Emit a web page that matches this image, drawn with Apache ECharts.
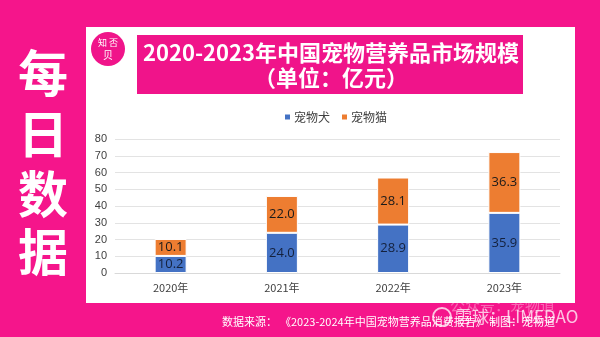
<!DOCTYPE html>
<html>
<head>
<meta charset="utf-8">
<script src="https://cdn.jsdelivr.net/npm/echarts@6/dist/echarts.min.js"></script>
<style>
html,body{margin:0;padding:0;background:#F5158B;}
#c{width:600px;height:337px;}
</style>
</head>
<body>
<div id="c"></div>
<script>
const categories = ['2020年', '2021年', '2022年', '2023年'];
const dogValues = [10.2, 24.0, 28.9, 35.9];
const catValues = [10.1, 22.0, 28.1, 36.3];
const seriesNames = ['宠物犬', '宠物猫'];
const titleLines = ['2020-2023年中国宠物营养品市场规模', '（单位：亿元）'];
const sideChars = ['每', '日', '数', '据'];
const sourceLabel = '数据来源：';
const sourceText = '《2023-2024年中国宠物营养品消费报告》 制图：宠物道';

const PINK = '#F5158B';
const CJK = '"Noto Sans CJK SC", "Noto Sans", sans-serif';

const chart = echarts.init(document.getElementById('c'));

const graphics = [
  { type: 'rect', shape: { x: 86, y: 27, width: 489, height: 276 }, style: { fill: '#ffffff' }, z: -10 },
  { type: 'rect', shape: { x: 137, y: 35, width: 386, height: 59 }, style: { fill: '#F0148A' }, z: 1 },
  { type: 'text', x: 331, y: 53, style: { text: titleLines[0], fill: '#ffffff', font: 'bold 22px ' + CJK, textAlign: 'center', textVerticalAlign: 'middle' }, z: 2 },
  { type: 'text', x: 331, y: 78, style: { text: titleLines[1], fill: '#ffffff', font: 'bold 22px ' + CJK, textAlign: 'center', textVerticalAlign: 'middle' }, z: 2 },
  { type: 'circle', shape: { cx: 108, cy: 49, r: 17 }, style: { fill: '#F0148A' }, z: 1 },
  { type: 'text', x: 108, y: 43, style: { text: '知 否', fill: '#ffffff', font: '9px ' + CJK, textAlign: 'center', textVerticalAlign: 'middle' }, z: 2 },
  { type: 'text', x: 108, y: 55, style: { text: '贝', fill: '#ffffff', font: '10px ' + CJK, textAlign: 'center', textVerticalAlign: 'middle' }, z: 2 },
  { type: 'text', x: 222, y: 322, style: { text: sourceLabel, fill: '#ffffff', font: '11px ' + CJK, textAlign: 'left', textVerticalAlign: 'middle' }, z: 2 },
  { type: 'text', x: 280, y: 322, style: { text: sourceText, fill: '#ffffff', font: '11px ' + CJK, textAlign: 'left', textVerticalAlign: 'middle' }, z: 2 },
  { type: 'text', x: 450, y: 305, style: { text: '公众号：宠物道', fill: 'rgba(255,255,255,0.35)', font: '15px ' + CJK, textAlign: 'left', textVerticalAlign: 'middle' }, z: 3 },
  { type: 'circle', shape: { cx: 442, cy: 317, r: 9 }, style: { fill: 'none', stroke: 'rgba(255,255,255,0.75)', lineWidth: 2 }, z: 3 },
  { type: 'text', x: 455, y: 317, style: { text: '雪球：LIMEDAO', fill: 'rgba(255,255,255,0.75)', font: '17px ' + CJK, textAlign: 'left', textVerticalAlign: 'middle' }, z: 3 }
];
const sideY = [73, 134, 194, 252];
sideChars.forEach((ch, i) => {
  graphics.push({ type: 'text', x: 43, y: sideY[i], style: { text: ch, fill: '#ffffff', font: 'bold 50px ' + CJK, textAlign: 'center', textVerticalAlign: 'middle' }, z: 2 });
});

chart.setOption({
  backgroundColor: PINK,
  animation: false,
  graphic: graphics,
  legend: {
    data: seriesNames,
    top: 106,
    left: 278,
    itemWidth: 7,
    itemHeight: 7,
    itemGap: 10,
    icon: 'rect',
    textStyle: { fontFamily: CJK, fontSize: 12, color: '#404040', padding: [0, 0, 0, -2] }
  },
  grid: { left: 115, right: 40, top: 139, bottom: 64 },
  xAxis: {
    type: 'category',
    data: categories,
    axisLine: { lineStyle: { color: '#d9d9d9' } },
    axisTick: { show: false },
    axisLabel: { color: '#404040', fontSize: 11, fontFamily: CJK, margin: 9 }
  },
  yAxis: {
    type: 'value',
    min: 0, max: 80, interval: 10,
    axisLine: { show: false },
    axisTick: { show: false },
    axisLabel: { color: '#404040', fontSize: 11, fontFamily: 'Liberation Sans, sans-serif', margin: 8 },
    splitLine: { lineStyle: { color: '#e3e3e3' } }
  },
  series: [
    {
      name: seriesNames[0], type: 'bar', stack: 'a', data: dogValues, barWidth: 32,
      itemStyle: { color: '#4472C4', borderColor: '#ffffff', borderWidth: 1 },
      label: { show: true, position: 'inside', color: '#14213d', fontSize: 13, fontFamily: '"Open Sans", sans-serif', formatter: p => p.value.toFixed(1) }
    },
    {
      name: seriesNames[1], type: 'bar', stack: 'a', data: catValues, barWidth: 32,
      itemStyle: { color: '#ED7D31', borderColor: '#ffffff', borderWidth: 1 },
      label: { show: true, position: 'inside', color: '#1a1a1a', fontSize: 13, fontFamily: '"Open Sans", sans-serif', formatter: p => p.value.toFixed(1) }
    }
  ]
});
</script>
</body>
</html>
